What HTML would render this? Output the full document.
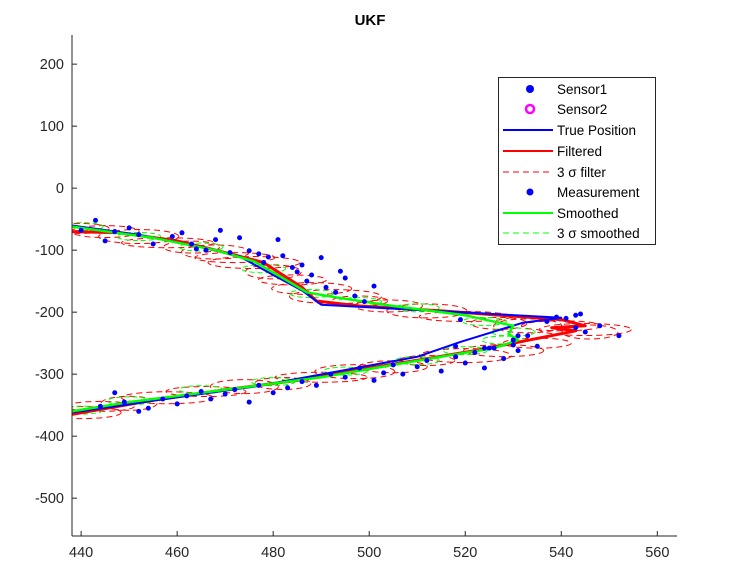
<!DOCTYPE html>
<html><head><meta charset="utf-8"><style>
html,body{margin:0;padding:0;background:#fff;}
svg{display:block;font-family:"Liberation Sans",Arial,sans-serif;}
</style></head><body>
<svg id="chart" width="731" height="579" viewBox="0 0 731 579">
<defs><clipPath id="plotclip"><rect x="72" y="35" width="605" height="501"/></clipPath></defs>
<g clip-path="url(#plotclip)">
<g id="ellipses"></g>
<g id="lines"></g>
<g id="dots"></g>
</g>
<g id="axes"></g>
<text x="370" y="25" text-anchor="middle" font-size="15" font-weight="bold" fill="#000">UKF</text>
<g id="legend"></g>
</svg>
<script>
const xTicks=[440,460,480,500,520,540,560];
const yTicks=[200,100,0,-100,-200,-300,-400,-500];
const trueX=[438,452,465,473,480,486,490,540,532,519,510,477,455,438];
const trueY=[-60,-75,-95,-110,-140,-165,-188,-209,-217,-248,-272,-319,-343,-362];
const filtX=[438,448,460,467,472,478,482,486,489,498,515,540,545,538,543,530,522,512,500,485,470,455,438];
const filtY=[-70,-72,-85,-98,-108,-120,-140,-160,-182,-190,-198,-212,-222,-225,-230,-250,-262,-275,-290,-310,-325,-342,-365];
const smX=[438,455,468,476,482,487,493,505,520,530,529,531,526,518,505,490,470,450,438];
const smY=[-62,-80,-100,-118,-145,-168,-176,-190,-205,-222,-235,-245,-258,-268,-285,-305,-325,-345,-360];
const ellX=[440,445,452,458,463,468,472,476,480,484,488,493,498,504,512,520,527,533,540,545,546,535,528,520,512,505,497,490,482,474,466,458,450,444,440];
const ellY=[-65,-70,-78,-88,-95,-103,-112,-120,-135,-148,-162,-175,-182,-190,-198,-207,-218,-222,-222,-228,-232,-250,-262,-270,-278,-288,-296,-305,-315,-320,-328,-338,-347,-352,-362];
const smEllX=[440,452,465,478,488,498,510,524,530,528,520,510,495,480,465,450,440];
const smEllY=[-62,-78,-95,-130,-170,-183,-193,-215,-232,-245,-262,-278,-295,-312,-325,-343,-358];
const measX=[440,443,445,447,450,452,455,459,461,463,464,466,468,469,471,473,475,477,478,479,481,482,484,485,486,487,488,490,491,493,494,495,497,499,501,
444,447,449,452,454,457,460,462,465,467,470,472,475,477,480,483,486,489,492,495,498,501,503,505,507,510,512,515,518,520,522,524,526,528,530,531,533,535,537,539,541,543,543,544,545,548,552,531,530,525,519,518,524];
const measY=[-68,-52,-85,-70,-64,-75,-90,-78,-72,-90,-98,-100,-83,-68,-104,-80,-101,-106,-120,-111,-83,-109,-128,-135,-124,-150,-140,-112,-160,-168,-134,-145,-174,-183,-158,
-352,-330,-345,-360,-355,-340,-348,-335,-328,-340,-332,-325,-345,-318,-330,-322,-312,-318,-300,-305,-290,-310,-298,-285,-300,-288,-278,-295,-272,-282,-265,-290,-258,-275,-245,-262,-238,-255,-215,-208,-210,-225,-205,-203,-232,-222,-238,-238,-253,-258,-212,-255,-258,-270];
const X0=438.1,X1=564.1,Y0=-561,Y1=247,L=72,R=677,T=35,B=536;
function sx(v){return L+(v-X0)*(R-L)/(X1-X0);}
function sy(v){return B-(v-Y0)*(B-T)/(Y1-Y0);}
const NS='http://www.w3.org/2000/svg';
function mk(tag,attrs,parent){const e=document.createElementNS(NS,tag);for(const k in attrs)e.setAttribute(k,attrs[k]);parent.appendChild(e);return e;}
const gE=document.getElementById('ellipses'),gL=document.getElementById('lines'),gD=document.getElementById('dots'),gA=document.getElementById('axes'),gG=document.getElementById('legend');
for(let i=0;i<ellX.length;i++){
 const e=mk('ellipse',{cx:sx(ellX[i]),cy:sy(ellY[i]),rx:28+(i%4)*6,ry:5+(i%3),fill:'none',stroke:'#ff0000','stroke-width':1,'stroke-dasharray':'6,4'},gE);
 
 
}
for(let i=0;i<smEllX.length;i++){
 const e=mk('ellipse',{cx:sx(smEllX[i]),cy:sy(smEllY[i]),rx:22,ry:4,fill:'none',stroke:'#00ff00','stroke-width':1,'stroke-dasharray':'5,3'},gE);
 
 
}
function line(xs,ys,col,w,name){
 const p=xs.map((v,i)=>sx(v).toFixed(1)+','+sy(ys[i]).toFixed(1)).join(' ');
 const e=mk('polyline',{points:p,fill:'none',stroke:col,'stroke-width':w,'stroke-linejoin':'round'},gL);
 
 
}
line(filtX,filtY,'#ff0000',3,'filtered-line');
line(trueX,trueY,'#0000ff',2,'true-position-line');
line(smX,smY,'#00ff00',2.5,'smoothed-line');
for(let i=0;i<measX.length;i++){
 const e=mk('circle',{cx:sx(measX[i]),cy:sy(measY[i]),r:2.5,fill:'#0000ff'},gD);
 
 
}
mk('line',{x1:L,y1:T,x2:L,y2:B,stroke:'#262626','stroke-width':1},gA);
mk('line',{x1:L,y1:B,x2:R,y2:B,stroke:'#262626','stroke-width':1},gA);
xTicks.forEach(v=>{
 mk('line',{x1:sx(v),y1:B,x2:sx(v),y2:B-5,stroke:'#262626'},gA);
 const t=mk('text',{x:sx(v),y:B+21,'text-anchor':'middle','font-size':14.5,fill:'#262626'},gA);t.textContent=v;
 
 
});
yTicks.forEach(v=>{
 mk('line',{x1:L,y1:sy(v),x2:L+5,y2:sy(v),stroke:'#262626'},gA);
 const t=mk('text',{x:L-8,y:sy(v)+5,'text-anchor':'end','font-size':14.5,fill:'#262626'},gA);t.textContent=v;
 
 
});
mk('rect',{x:498.5,y:77.5,width:157,height:167,fill:'#fff',stroke:'#262626','stroke-width':1},gG);
const rows=[89,109,130,151,172,192,213,233];
const labels=['Sensor1','Sensor2','True Position','Filtered','3 σ filter','Measurement','Smoothed','3 σ smoothed'];
rows.forEach((y,i)=>{
 if(i==0)mk('circle',{cx:530,cy:y,r:4,fill:'#0000ff'},gG);
 if(i==1)mk('circle',{cx:530,cy:y,r:4,fill:'none',stroke:'#ff00ff','stroke-width':2.5},gG);
 if(i==2)mk('line',{x1:503,y1:y,x2:553,y2:y,stroke:'#0000ff','stroke-width':2},gG);
 if(i==3)mk('line',{x1:503,y1:y,x2:553,y2:y,stroke:'#ff0000','stroke-width':2},gG);
 if(i==4)mk('line',{x1:503,y1:y,x2:553,y2:y,stroke:'#ff0000','stroke-width':1,'stroke-dasharray':'6,4'},gG);
 if(i==5)mk('circle',{cx:530,cy:y,r:3.5,fill:'#0000ff'},gG);
 if(i==6)mk('line',{x1:503,y1:y,x2:553,y2:y,stroke:'#00ff00','stroke-width':2},gG);
 if(i==7)mk('line',{x1:503,y1:y,x2:553,y2:y,stroke:'#00ff00','stroke-width':1,'stroke-dasharray':'6,4'},gG);
 const t=mk('text',{x:557,y:y+5,'font-size':13.5,fill:'#000'},gG);t.textContent=labels[i];
 
 
});
</script>
</body></html>
